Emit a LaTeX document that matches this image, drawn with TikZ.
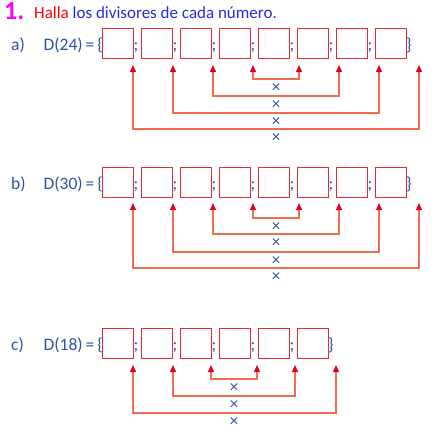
\documentclass[tikz,border=0pt]{standalone}
\usepackage{fontspec}
\setmainfont{Carlito}
\usetikzlibrary{positioning,arrows.meta}
\definecolor{boxred}{RGB}{232,40,50}
\definecolor{linkred}{RGB}{240,110,80}
\definecolor{tipred}{RGB}{225,0,30}
\definecolor{textblue}{RGB}{50,80,165}
\definecolor{titleblue}{RGB}{40,40,225}
\definecolor{numpink}{RGB}{255,0,255}

\tikzset{
    cell/.style={draw=boxred, line width=1pt, minimum width=31pt, minimum height=30pt, inner sep=0pt},
    lbl/.style={text=textblue, font=\fontsize{17.5}{20}\selectfont, inner sep=0pt, anchor=base},
    times/.style={text=textblue, font=\fontsize{17}{20}\selectfont, inner sep=0pt},
    link/.style={draw=linkred, line width=1.3pt,
        {Triangle[length=7pt,width=6pt,color=tipred]}-{Triangle[length=7pt,width=6pt,color=tipred]}}
}

\begin{document}
\begin{tikzpicture}[x=1pt,y=-1pt]
\useasboundingbox (0,0) rectangle (438,442);

% Title
\node[anchor=base west, inner sep=0pt, text=numpink, font=\bfseries\fontsize{26}{28}\selectfont] (num) at (4,19) {1.};
\node[anchor=base west, inner sep=0pt, font=\fontsize{17}{20}\selectfont] (title) at (34,18)
    {\textcolor{red}{Halla} \textcolor{titleblue}{los divisores de cada número.}};

% Row a
\node[lbl, anchor=base west] (la) at (11,50) {a)};
\node[lbl, anchor=base east] (da) at (103,50) {D(24)\,=\,\{};
\foreach \i in {1,...,8}
    \node[cell] (a\i) at (78.5+39*\i,43) {};
\foreach \i in {1,...,7}
    \node[lbl] (sa\i) at (97+39*\i,50) {;};
\node[lbl, anchor=base west] (ea) at (406,50) {\}};
\foreach \x [count=\i] in {133,173,213,253,299,339,379,419}
    \coordinate (ta\i) at (\x,65);
\foreach \j/\y in {1/79,2/96,3/113,4/129} {
    \coordinate (ka\j) at (276,\y);
    \node[times] (xa\j) at (276,\y+9) {×};
}
\foreach \l/\r/\j in {4/5/1,3/6/2,2/7/3,1/8/4}
    \draw[link] (ta\l) |- (ka\j) -| (ta\r);

% Row b
\node[lbl, anchor=base west] (lb) at (11,189) {b)};
\node[lbl, anchor=base east] (db) at (103,189) {D(30)\,=\,\{};
\foreach \i in {1,...,8}
    \node[cell] (b\i) at (78.5+39*\i,182) {};
\foreach \i in {1,...,7}
    \node[lbl] (sb\i) at (97+39*\i,189) {;};
\node[lbl, anchor=base west] (eb) at (406,189) {\}};
\foreach \x [count=\i] in {133,173,213,253,299,339,379,419}
    \coordinate (tb\i) at (\x,203);
\foreach \j/\y in {1/218,2/234,3/252,4/268} {
    \coordinate (kb\j) at (276,\y);
    \node[times] (xb\j) at (276,\y+9) {×};
}
\foreach \l/\r/\j in {4/5/1,3/6/2,2/7/3,1/8/4}
    \draw[link] (tb\l) |- (kb\j) -| (tb\r);

% Row c
\node[lbl, anchor=base west] (lc) at (11,350) {c)};
\node[lbl, anchor=base east] (dc) at (103,350) {D(18)\,=\,\{};
\foreach \i in {1,...,6}
    \node[cell] (c\i) at (78.5+39*\i,343) {};
\foreach \i in {1,...,5}
    \node[lbl] (sc\i) at (97+39*\i,350) {;};
\node[lbl, anchor=base west] (ec) at (328,350) {\}};
\foreach \x [count=\i] in {133,173,211,257,295,336}
    \coordinate (tc\i) at (\x,365);
\foreach \j/\y in {1/379,2/396,3/413} {
    \coordinate (kc\j) at (234,\y);
    \node[times] (xc\j) at (234,\y+9) {×};
}
\foreach \l/\r/\j in {3/4/1,2/5/2,1/6/3}
    \draw[link] (tc\l) |- (kc\j) -| (tc\r);
\end{tikzpicture}
\end{document}
